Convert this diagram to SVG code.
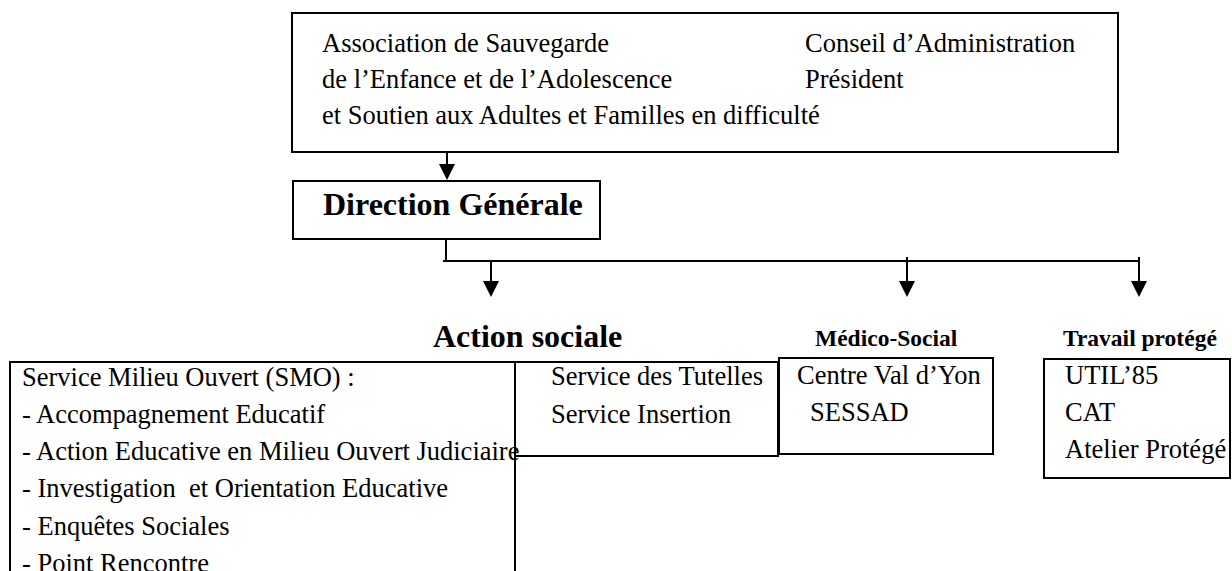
<svg xmlns="http://www.w3.org/2000/svg" width="1232" height="571" viewBox="0 0 1232 571">
<style>
.box{fill:#fff;stroke:#000;stroke-width:2}
.t{font-family:"Liberation Serif","Times New Roman",serif;font-size:26.5px;fill:#000}
.h{font-family:"Liberation Serif","Times New Roman",serif;font-weight:bold;font-size:32px;fill:#000}
.hs{font-family:"Liberation Serif","Times New Roman",serif;font-weight:bold;font-size:23.5px;fill:#000}
.ln{fill:none;stroke:#000;stroke-width:2}
.ah{fill:#000}
</style>
<rect width="1232" height="571" fill="#fff"/>
<g id="connectors">
<line class="ln" x1="447" y1="152" x2="447" y2="165"/>
<path class="ah" d="M439,164 L455,164 L447,180 Z"/>
<line class="ln" x1="446" y1="239" x2="446" y2="261"/>
<line class="ln" x1="443" y1="261" x2="1139" y2="261"/>
<line class="ln" x1="491" y1="261" x2="491" y2="282"/>
<path class="ah" d="M483,281 L499,281 L491,297 Z"/>
<line class="ln" x1="907" y1="257" x2="907" y2="282"/>
<path class="ah" d="M899,281 L915,281 L907,297 Z"/>
<line class="ln" x1="1139" y1="257" x2="1139" y2="282"/>
<path class="ah" d="M1131,281 L1147,281 L1139,297 Z"/>
</g>
<g id="association">
<rect class="box" x="292" y="13" width="826" height="139"/>
<text class="t" x="322" y="52">Association de Sauvegarde</text>
<text class="t" x="322" y="88">de l’Enfance et de l’Adolescence</text>
<text class="t" x="322" y="124">et Soutien aux Adultes et Familles en difficulté</text>
<text class="t" x="805" y="52">Conseil d’Administration</text>
<text class="t" x="805" y="88">Président</text>
</g>
<g id="direction">
<rect class="box" x="293" y="181" width="307" height="58"/>
<text class="h" x="323" y="215">Direction Générale</text>
</g>
<g id="action-sociale">
<text class="h" x="433" y="347">Action sociale</text>
</g>
<g id="smo">
<rect class="box" x="10" y="362" width="505" height="240"/>
<text class="t" x="22" y="386">Service Milieu Ouvert (SMO) :</text>
<text class="t" x="22" y="423">- Accompagnement Educatif</text>
<text class="t" x="22" y="460">- Action Educative en Milieu Ouvert Judiciaire</text>
<text class="t" x="22" y="497" xml:space="preserve">- Investigation  et Orientation Educative</text>
<text class="t" x="22" y="535">- Enquêtes Sociales</text>
<text class="t" x="22" y="572">- Point Rencontre</text>
</g>
<g id="tutelles">
<rect class="box" x="515" y="362" width="263" height="94" style="fill:none"/>
<text class="t" x="551" y="385">Service des Tutelles</text>
<text class="t" x="551" y="423">Service Insertion</text>
</g>
<g id="medico-social">
<text class="hs" x="815" y="346">Médico-Social</text>
<rect class="box" x="779" y="358" width="214" height="96"/>
<text class="t" x="797" y="384">Centre Val d’Yon</text>
<text class="t" x="810" y="421">SESSAD</text>
</g>
<g id="travail-protege">
<text class="hs" x="1063" y="346">Travail protégé</text>
<rect class="box" x="1044" y="359" width="186" height="119"/>
<text class="t" x="1065" y="384">UTIL’85</text>
<text class="t" x="1065" y="421">CAT</text>
<text class="t" x="1065" y="458">Atelier Protégé</text>
</g>
</svg>
